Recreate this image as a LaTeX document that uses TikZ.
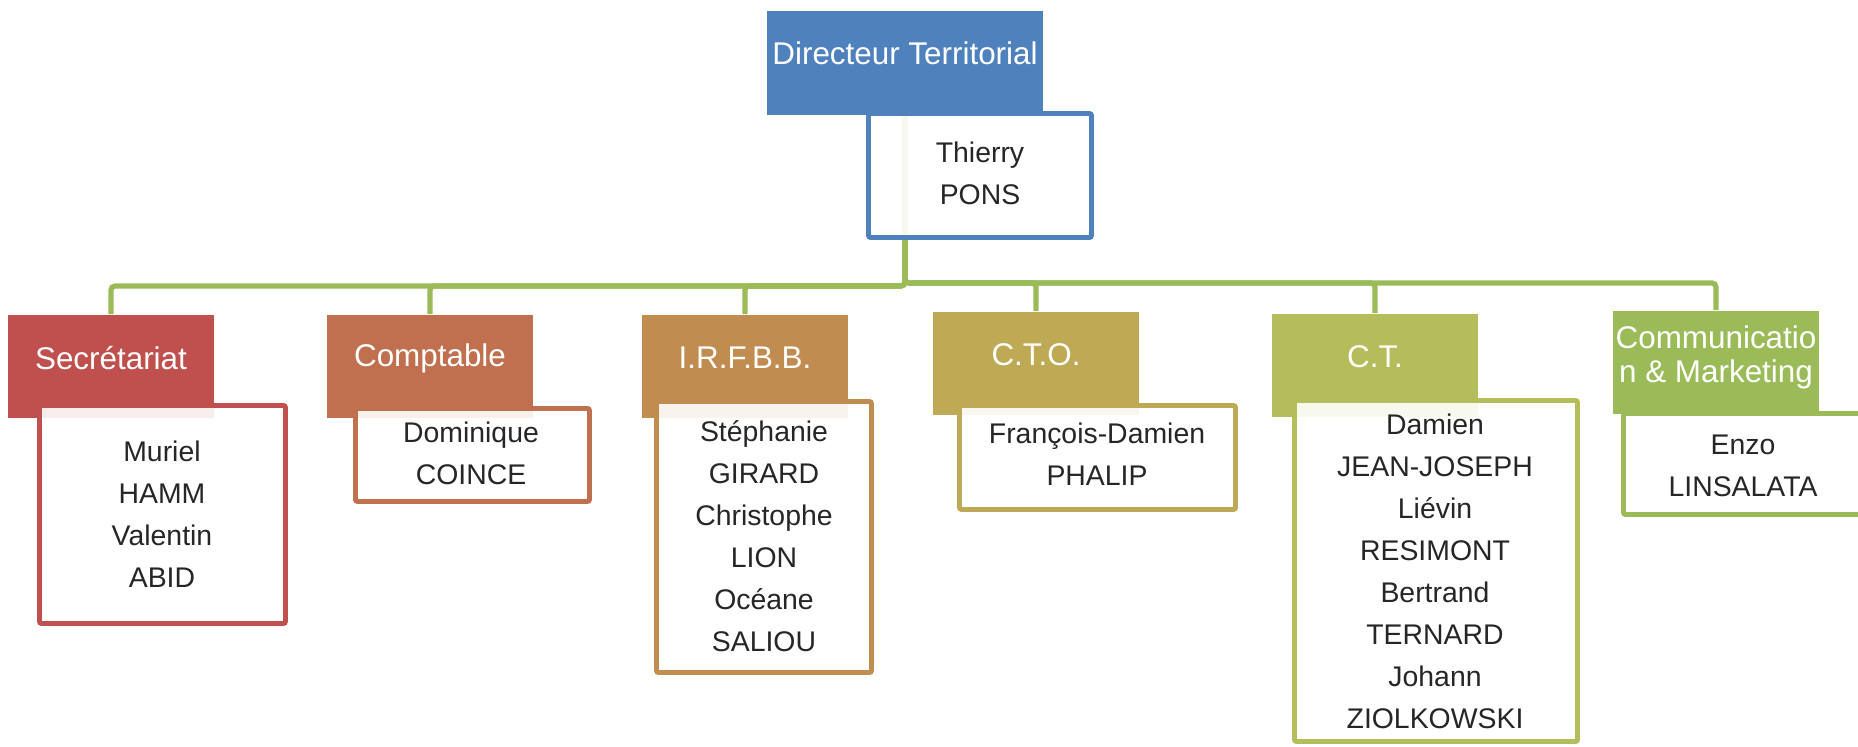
\documentclass[tikz,border=0pt]{standalone}
\usepackage{fontspec}
\setmainfont{Liberation Sans}
\definecolor{dirblue}{HTML}{4F81BD}
\definecolor{secrcol}{HTML}{C0504D}
\definecolor{comptcol}{HTML}{C0704F}
\definecolor{irfbbcol}{HTML}{C08C50}
\definecolor{ctocol}{HTML}{BEA954}
\definecolor{ctcol}{HTML}{B4BD59}
\definecolor{commcol}{HTML}{9BBB59}
\definecolor{linkgreen}{HTML}{9BBB59}
\definecolor{namegray}{HTML}{262626}
\begin{document}
\begin{tikzpicture}[x=0.5pt,y=-0.5pt,
  head/.style={inner sep=0mm,minimum width=103pt,minimum height=51.5pt},
  headtext/.style={inner sep=0mm,text=white,align=center,font=\fontsize{15.7}{17}\selectfont},
  namebox/.style={inner sep=0mm,line width=2.4pt,fill=white,fill opacity=0.9,rounded corners=1pt},
  names/.style={inner sep=0mm,text=namegray,align=center,font=\fontsize{14.2}{21}\selectfont},
  link/.style={draw=linkgreen,line width=2.6pt,rounded corners=2pt}]
\useasboundingbox (0,0) rectangle (1858,746);
\clip (0,0) rectangle (1858,746);

\node[head,fill=dirblue,minimum width=138pt,minimum height=52pt] (dir) at (905,63) {};
\foreach \x/\y/\n/\c in {111/366/secr/secrcol, 430/366/compt/comptcol, 745/366/irfbb/irfbbcol, 1036/363/cto/ctocol, 1375/365/ct/ctcol, 1716/362/comm/commcol}
  \node[head,fill=\c] (\n) at (\x,\y) {};

% connectors from the director down to each service
\coordinate (busL) at (905,286);
\coordinate (busR) at (905,283);
\foreach \s/\b in {secr/busL, compt/busL, irfbb/busL, cto/busR, ct/busR, comm/busR}
  \draw[link] (dir.south) -- (\b) -| (\s.north);

% white boxes with the names
\node[namebox,draw=dirblue,minimum width=111.5pt,minimum height=62pt] (pons-box) at (980,175.5) {};
\foreach \x/\y/\w/\h/\n/\c in {162.5/514.5/123pt/109pt/secr/secrcol, 472.5/455/117pt/46.5pt/compt/comptcol, 764/537/107.5pt/135.5pt/irfbb/irfbbcol, 1097.5/457.5/138pt/52pt/cto/ctocol, 1436/571/141.5pt/170.5pt/ct/ctcol, 1743/464/119.5pt/50.5pt/comm/commcol}
  \node[namebox,draw=\c,minimum width=\w,minimum height=\h] (\n-box) at (\x,\y) {};

\node[headtext] (dir-t) at ([yshift=5pt]dir.center) {Directeur Territorial};
\foreach \n/\t in {secr/Secrétariat, compt/Comptable, irfbb/I.R.F.B.B., cto/C.T.O., ct/C.T.}
  \node[headtext] (\n-t) at ([yshift=4pt]\n.center) {\t};
\node[headtext] (comm-t) at ([yshift=2.5pt]comm.center) {Communicatio\\n \& Marketing};

\foreach \x/\y/\n/\t in {980/173.5/pons/Thierry\\PONS, 162/514/secr/Muriel\\HAMM\\Valentin\\ABID, 471/453.5/compt/Dominique\\COINCE, 764/536/irfbb/Stéphanie\\GIRARD\\Christophe\\LION\\Océane\\SALIOU, 1097/454.5/cto/François-Damien\\PHALIP, 1435/571.5/ct/Damien\\JEAN-JOSEPH\\Liévin\\RESIMONT\\Bertrand\\TERNARD\\Johann\\ZIOLKOWSKI, 1743/466/comm/Enzo\\LINSALATA}
  \node[names] (\n-names) at (\x,\y) {\t};

\end{tikzpicture}
\end{document}
